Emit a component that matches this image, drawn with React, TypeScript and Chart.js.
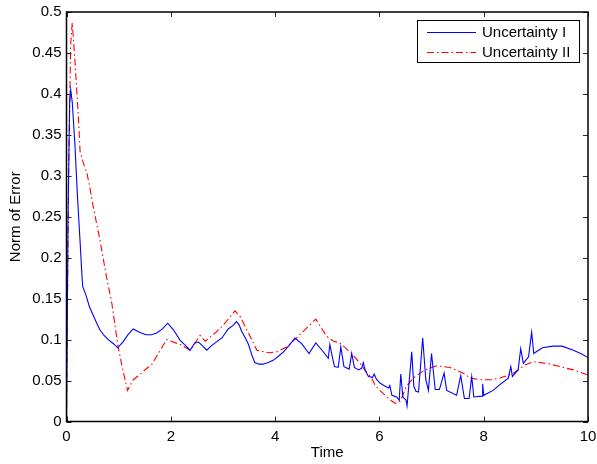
import React, { useEffect, useRef } from "react";
import { Chart, registerables } from "chart.js";

Chart.register(...registerables);

const seriesNames = ["Uncertainty I", "Uncertainty II"];

const blueTime = [
  0, 0.03, 0.06, 0.08, 0.11, 0.16, 0.21, 0.26, 0.29, 0.31, 0.37, 0.44, 0.51, 0.58, 0.64, 0.72, 0.8, 0.9, 0.98,
  1.08, 1.18, 1.28, 1.4, 1.52, 1.63, 1.73, 1.84, 1.94, 2.05, 2.18, 2.28, 2.37, 2.46, 2.53, 2.6, 2.69, 2.77, 2.85,
  2.98, 3.1, 3.19, 3.26, 3.31, 3.36, 3.43, 3.49, 3.55, 3.61, 3.69, 3.77, 3.87, 3.97, 4.07, 4.16, 4.27, 4.38, 4.51,
  4.65, 4.78, 4.9, 5.02, 5.05, 5.1, 5.14, 5.21, 5.26, 5.32, 5.42, 5.47, 5.52, 5.6, 5.66, 5.69, 5.73, 5.79, 5.87,
  5.9, 5.94, 6.01, 6.11, 6.18, 6.2, 6.24, 6.33, 6.38, 6.41, 6.45, 6.51, 6.53, 6.62, 6.66, 6.7, 6.75, 6.83, 6.89,
  6.94, 7.0, 7.07, 7.15, 7.24, 7.29, 7.48, 7.56, 7.63, 7.72, 7.77, 7.81, 7.97, 7.98, 8.0, 8.18, 8.31, 8.47, 8.52,
  8.55, 8.66, 8.71, 8.76, 8.86, 8.92, 8.96, 9.05, 9.13, 9.33, 9.5, 9.72, 9.86, 10.0,
];
const blueError = [
  0, 0.25, 0.39, 0.405, 0.39, 0.34, 0.275, 0.22, 0.185, 0.165, 0.155, 0.14, 0.13, 0.12, 0.112, 0.105, 0.1, 0.095, 0.09,
  0.097, 0.106, 0.113, 0.109, 0.106, 0.106, 0.108, 0.113, 0.12, 0.112, 0.099, 0.093, 0.087, 0.096, 0.097, 0.093, 0.087, 0.092, 0.096,
  0.102, 0.113, 0.117, 0.122, 0.118, 0.11, 0.102, 0.094, 0.082, 0.072, 0.07, 0.07, 0.072, 0.075, 0.08, 0.085, 0.093, 0.102, 0.095,
  0.083, 0.096, 0.087, 0.077, 0.094, 0.078, 0.067, 0.066, 0.091, 0.067, 0.064, 0.083, 0.066, 0.063, 0.065, 0.072, 0.062, 0.055, 0.054,
  0.058, 0.052, 0.047, 0.043, 0.041, 0.044, 0.032, 0.03, 0.026, 0.058, 0.03, 0.026, 0.019, 0.085, 0.043, 0.037, 0.036, 0.102, 0.051,
  0.038, 0.083, 0.039, 0.039, 0.059, 0.038, 0.032, 0.056, 0.028, 0.028, 0.055, 0.03, 0.031, 0.046, 0.032, 0.038, 0.045, 0.053, 0.067,
  0.055, 0.063, 0.089, 0.071, 0.079, 0.109, 0.083, 0.087, 0.09, 0.092, 0.092, 0.087, 0.083, 0.078,
];

const redTime = [
  0, 0.04, 0.08, 0.11, 0.16, 0.23, 0.26, 0.32, 0.39, 0.45, 0.51, 0.64, 0.76, 0.87, 0.99, 1.08, 1.17, 1.28, 1.4,
  1.54, 1.63, 1.78, 1.92, 2.18, 2.37, 2.56, 2.66, 2.85, 3.01, 3.23, 3.33, 3.49, 3.65, 3.87, 4.03, 4.22, 4.41, 4.57,
  4.78, 4.89, 4.99, 5.12, 5.24, 5.47, 5.63, 5.72, 5.85, 5.93, 6.14, 6.3, 6.4, 6.52, 6.65, 6.87, 7.1, 7.35, 7.61,
  7.74, 7.93, 8.15, 8.31, 8.57, 8.79, 8.95, 9.21, 9.46, 9.72, 10.0,
];
const redError = [
  0, 0.3, 0.46, 0.487, 0.442, 0.37, 0.33, 0.316, 0.304, 0.285, 0.263, 0.222, 0.179, 0.144, 0.091, 0.063, 0.038, 0.051, 0.057,
  0.065, 0.069, 0.085, 0.1, 0.094, 0.087, 0.105, 0.098, 0.108, 0.118, 0.135, 0.128, 0.108, 0.087, 0.084, 0.085, 0.091, 0.102, 0.112,
  0.125, 0.114, 0.104, 0.098, 0.096, 0.083, 0.071, 0.063, 0.053, 0.043, 0.03, 0.022, 0.025, 0.043, 0.053, 0.063, 0.068, 0.066, 0.059,
  0.053, 0.051, 0.051, 0.053, 0.059, 0.069, 0.073, 0.071, 0.067, 0.063, 0.057,
];

const xTicks = [0, 2, 4, 6, 8, 10];
const yTicks = [0, 0.05, 0.1, 0.15, 0.2, 0.25, 0.3, 0.35, 0.4, 0.45, 0.5];
const xTitle = "Time";
const yTitle = "Norm of Error";

const FONT = "Liberation Sans, Arial, Helvetica, sans-serif";
const BLUE = "#0000ff";
const RED = "#ff0000";
const RED_DASH = [7, 3, 1.5, 3];

const framePlugin = {
  id: "matlabFrame",
  afterDraw(chart: any) {
    const { ctx, chartArea: a, scales } = chart;
    ctx.save();
    ctx.strokeStyle = "#262626";
    ctx.lineWidth = 1;
    const len = 5;
    ctx.beginPath();
    for (const v of xTicks) {
      const px = Math.round(scales.x.getPixelForValue(v)) + 0.5;
      ctx.moveTo(px, a.bottom);
      ctx.lineTo(px, a.bottom - len);
      ctx.moveTo(px, a.top);
      ctx.lineTo(px, a.top + len);
    }
    for (const v of yTicks) {
      const py = Math.round(scales.y.getPixelForValue(v)) + 0.5;
      ctx.moveTo(a.left, py);
      ctx.lineTo(a.left + len, py);
      ctx.moveTo(a.right, py);
      ctx.lineTo(a.right - len, py);
    }
    ctx.stroke();
    ctx.strokeStyle = "#000";
    ctx.lineWidth = 1.5;
    ctx.strokeRect(a.left, a.top, a.right - a.left, a.bottom - a.top);

    const lx = 417.5, ly = 20.5, lw = 162, lh = 42;
    ctx.fillStyle = "#fff";
    ctx.fillRect(lx, ly, lw, lh);
    ctx.lineWidth = 1;
    ctx.strokeStyle = "#000";
    ctx.strokeRect(lx, ly, lw, lh);
    const rows = [
      { y: 32.5, color: BLUE, dash: [] as number[] },
      { y: 52.5, color: RED, dash: RED_DASH },
    ];
    ctx.font = `15px ${FONT}`;
    ctx.textBaseline = "middle";
    ctx.textAlign = "left";
    rows.forEach((r, i) => {
      ctx.strokeStyle = r.color;
      ctx.setLineDash(r.dash);
      ctx.lineWidth = 1;
      ctx.beginPath();
      ctx.moveTo(427, r.y);
      ctx.lineTo(476, r.y);
      ctx.stroke();
      ctx.setLineDash([]);
      ctx.fillStyle = "#000";
      ctx.fillText(seriesNames[i], 482, r.y + 0.5);
    });
    ctx.restore();
  },
};

export default function App() {
  const ref = useRef<HTMLCanvasElement | null>(null);
  useEffect(() => {
    if (!ref.current) return;
    const blueData = blueTime.map((t, i) => ({ x: t, y: blueError[i] }));
    const redData = redTime.map((t, i) => ({ x: t, y: redError[i] }));
    const chart = new Chart(ref.current, {
      type: "line",
      data: {
        datasets: [
          {
            label: seriesNames[0],
            data: blueData,
            borderColor: BLUE,
            borderWidth: 1.1,
            pointRadius: 0,
            tension: 0,
            fill: false,
          },
          {
            label: seriesNames[1],
            data: redData,
            borderColor: RED,
            borderWidth: 1.1,
            borderDash: RED_DASH,
            pointRadius: 0,
            tension: 0,
            fill: false,
          },
        ],
      },
      options: {
        animation: false,
        responsive: false,
        maintainAspectRatio: false,
        devicePixelRatio: 1,
        layout: { padding: { left: 0, top: 12, right: 9, bottom: 0 } },
        plugins: { legend: { display: false }, tooltip: { enabled: false } },
        scales: {
          x: {
            type: "linear",
            min: 0,
            max: 10,
            afterBuildTicks: (scale: any) => {
              scale.ticks = xTicks.map((v) => ({ value: v }));
            },
            afterFit: (scale: any) => {
              scale.height = 42.5;
              scale.paddingLeft = 0;
              scale.paddingRight = 0;
              scale.paddingTop = 0;
              scale.paddingBottom = 0;
            },
            grid: { display: false, drawTicks: false },
            border: { display: false },
            ticks: {
              color: "#000",
              font: { family: FONT, size: 15 },
              padding: 6,
              maxRotation: 0,
              callback: (v: any) => String(v),
            },
            title: {
              display: true,
              text: xTitle,
              color: "#000",
              font: { family: FONT, size: 15 },
              padding: { top: 0, bottom: 2 },
            },
          },
          y: {
            type: "linear",
            min: 0,
            max: 0.5,
            afterBuildTicks: (scale: any) => {
              scale.ticks = yTicks.map((v) => ({ value: v }));
            },
            afterFit: (scale: any) => {
              scale.width = 66.5;
              scale.paddingLeft = 0;
              scale.paddingRight = 0;
              scale.paddingTop = 0;
              scale.paddingBottom = 0;
            },
            grid: { display: false, drawTicks: false },
            border: { display: false },
            ticks: {
              color: "#000",
              font: { family: FONT, size: 15 },
              padding: 5,
              callback: (v: any) => String(Number(Number(v).toFixed(2))),
            },
            title: {
              display: true,
              text: yTitle,
              color: "#000",
              font: { family: FONT, size: 15 },
              padding: { top: 7, bottom: 0 },
            },
          },
        },
      },
      plugins: [framePlugin],
    });
    return () => chart.destroy();
  }, []);
  return (
    <div style={{ position: "fixed", left: 0, top: 0, width: 597, height: 464, background: "#fff" }}>
      <canvas ref={ref} width={597} height={464} style={{ width: 597, height: 464, display: "block" }} />
    </div>
  );
}
